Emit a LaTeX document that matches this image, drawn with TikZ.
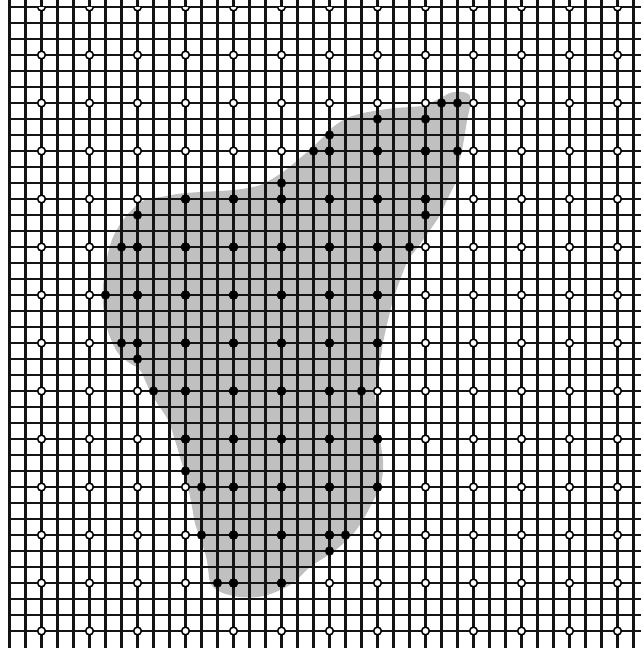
\documentclass[tikz,border=0pt]{standalone}
\usepackage{xcolor}
\usepackage{tikz}
\definecolor{regiongray}{RGB}{192,192,192}

\begin{document}
\begin{tikzpicture}[x=0.4cm,y=-0.4cm,
    gridline/.style={line width=1.6pt,black!92},
    opennode/.style={draw=black,line width=1.1pt,fill=white},
    fullnode/.style={fill=black}]
    \useasboundingbox (-0.59375,-0.4375) rectangle (39.46875,40.0625);
    \clip (-0.59375,-0.4375) rectangle (39.46875,40.0625);
    \fill[regiongray] plot[smooth cycle,tension=0.5] coordinates {
        (9.41,11.88) (10.97,11.63) (13.97,11.44) (15.66,11.13) (17.09,10.31)
        (18.16,9.44) (18.97,8.75) (19.59,8.13) (20.22,7.5) (21.09,6.94)
        (22.09,6.63) (23.16,6.44) (24.22,6.3) (25.1,6.25) (26.0,6.15)
        (26.6,5.85) (27.2,5.55) (27.6,5.35) (28.3,5.3) (28.75,5.5)
        (28.8,6.1) (28.6,7.06) (28.47,7.88) (28.28,8.94) (28.03,10.0)
        (27.9,10.9) (27.34,12.06) (26.91,13.0) (26.28,13.94) (25.53,15.0)
        (24.91,15.81) (24.41,17.06) (23.97,18.31) (23.66,19.56) (23.34,21.0)
        (23.16,22.25) (22.97,23.31) (22.84,24.06) (22.97,25.38) (23.03,26.44)
        (23.2,27.3) (23.34,28.31) (23.34,29.06) (23.16,30.0) (22.66,31.0)
        (22.09,32.06) (21.41,33.0) (20.3,34.0) (18.78,35.0) (17.72,36.0)
        (16.47,36.63) (15.47,36.88) (14.41,36.88) (13.34,36.63) (12.72,36.25)
        (12.5,35.8) (12.3,34.4) (11.84,33.0) (11.59,32.25) (11.41,31.25)
        (11.16,30.0) (10.91,29.0) (10.66,28.13) (10.34,27.06) (9.91,25.81)
        (9.22,24.75) (8.66,23.75) (8.16,22.69) (7.41,22.19) (6.78,21.63)
        (6.28,20.63) (5.97,19.56) (5.84,18.5) (5.84,17.5) (5.97,16.44)
        (6.16,15.38) (6.47,14.38) (7.09,13.31) (7.84,12.5) (8.47,12.06)};
    \foreach \i in {0,...,39}
        \draw[gridline] (\i,-0.5) -- (\i,40.1);
    \foreach \j in {0,...,39}
        \draw[gridline] (0,\j) -- (39.5,\j);
    \begin{scope}
        \clip (-1,0) rectangle (40,41);
        \foreach \i in {2,5,...,38}
            \foreach \j in {0,3,...,39}
                \filldraw[opennode] (\i,\j) circle (0.24);
    \end{scope}
    \foreach \j/\cols in {6/{27,28},7/{23,26},8/{20},9/{19,20,23,26,28},
        11/{17},12/{11,14,17,20,23,26},13/{8,26},15/{7,8,11,14,17,20,23,25},
        18/{6,8,11,14,17,20,23},21/{7,8,11,14,17,20,23},22/{8},
        24/{9,11,14,17,20,22},27/{11,14,17,20,23},29/{11},
        30/{12,14,17,20,23},33/{12,14,17,20,21},34/{20},36/{13,14,17}}
        \foreach \i in \cols
            \fill[fullnode] (\i,\j) circle (0.29);
\end{tikzpicture}
\end{document}
